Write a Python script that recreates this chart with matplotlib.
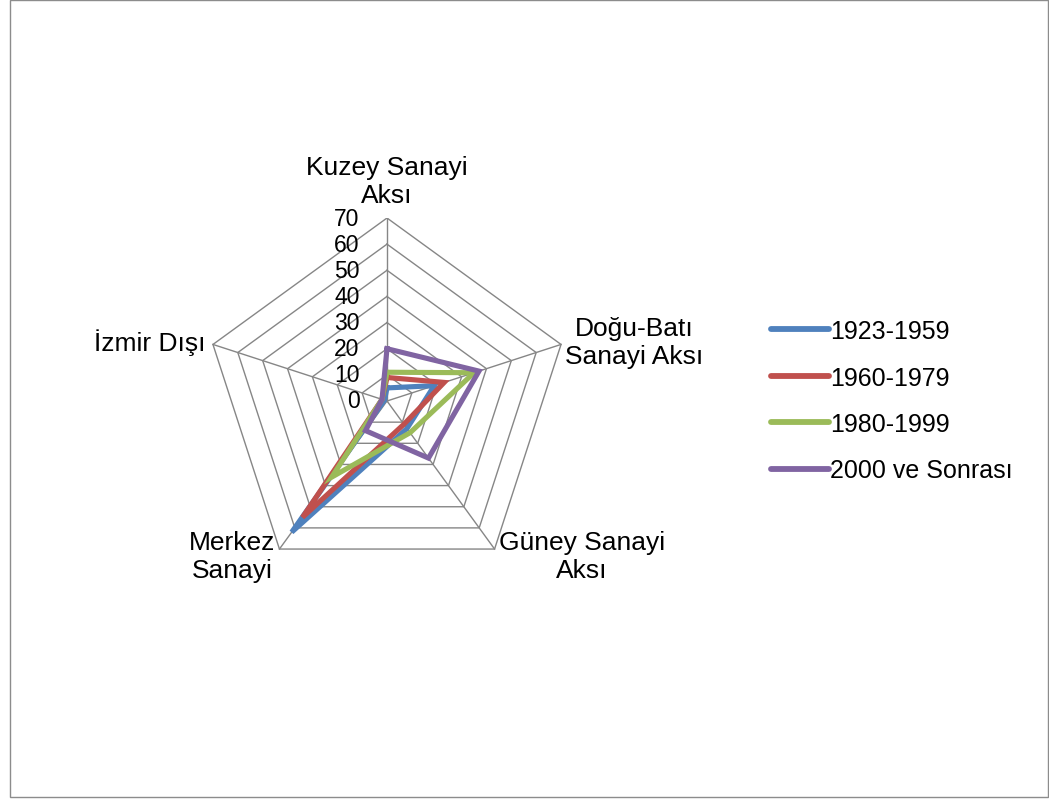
import numpy as np
import matplotlib
matplotlib.use("Agg")
import matplotlib.pyplot as plt
from matplotlib.patches import Rectangle

plt.rcParams['font.family'] = ['Liberation Sans', 'DejaVu Sans']

# Data (percent shares)
categories = ["Kuzey Sanayi\nAksı", "Doğu-Batı\nSanayi Aksı", "Güney Sanayi\nAksı",
              "Merkez\nSanayi", "İzmir Dışı"]
series_names = ["1923-1959", "1960-1979", "1980-1999", "2000 ve Sonrası"]
s1923 = [5, 19, 13, 62, 1]
s1960 = [9, 23, 11, 55, 2]
s1980 = [11, 35, 15, 36, 2]
s2000 = [20, 37, 27, 14, 2]
tick_values = [0, 10, 20, 30, 40, 50, 60, 70]

colors = ["#4F81BD", "#C0504D", "#9BBB59", "#8064A2"]
grid_color = "#868686"

fig = plt.figure(figsize=(10.49, 8.03), dpi=100)

# chart area border
fig.patches.append(Rectangle((10 / 1049, 5 / 803), 1038 / 1049, 797 / 803,
                             transform=fig.transFigure, fill=False,
                             edgecolor="#8c8c8c", linewidth=1))

# center at (387, 402) px, radius 183 px for value 70
cx, cy, R = 387, 402, 183
ax = fig.add_axes([(cx - R) / 1049, (803 - cy - R) / 803, 2 * R / 1049, 2 * R / 803])
ax.set_xlim(-70, 70)
ax.set_ylim(-70, 70)
ax.axis("off")

n = len(categories)
angles = np.deg2rad(90 - 72 * np.arange(n))


def to_xy(vals):
    vals = np.asarray(vals, dtype=float)
    x = vals * np.cos(angles)
    y = vals * np.sin(angles)
    return np.append(x, x[0]), np.append(y, y[0])


# polygon grid
for t in tick_values[1:]:
    gx, gy = to_xy([t] * n)
    ax.plot(gx, gy, color=grid_color, lw=1, zorder=1)
for a in angles:
    ax.plot([0, 70 * np.cos(a)], [0, 70 * np.sin(a)], color=grid_color, lw=1, zorder=1)

# tick labels along the top spoke
for t in tick_values:
    ax.text(-10.5, t, str(t), ha="right", va="center", fontsize=16.5, clip_on=False)

# series
for vals, name, c in zip([s1923, s1960, s1980, s2000], series_names, colors):
    x, y = to_xy(vals)
    ax.plot(x, y, color=c, lw=3.7, label=name, solid_joinstyle="miter", zorder=3)

# category labels
label_pos = [(0, 84, "center"), (94.5, 22.6, "center"), (74.5, -59.3, "center"),
             (-59.3, -59.3, "center"), (-69.5, 22.6, "right")]
for cat, (lx, ly, ha) in zip(categories, label_pos):
    ax.text(lx, ly, cat, ha=ha, va="center", multialignment="center",
            fontsize=19, linespacing=1.2, clip_on=False)

leg = ax.legend(loc="upper left", bbox_to_anchor=(771 / 1049, 1 - 320 / 803),
                bbox_transform=fig.transFigure, frameon=False, fontsize=18,
                handlelength=2.3, handletextpad=0.05, labelspacing=0.9,
                borderpad=0, borderaxespad=0)
for line in leg.get_lines():
    line.set_linewidth(4.2)
    line.set_solid_capstyle("round")

fig.savefig("out.png", dpi=100)
